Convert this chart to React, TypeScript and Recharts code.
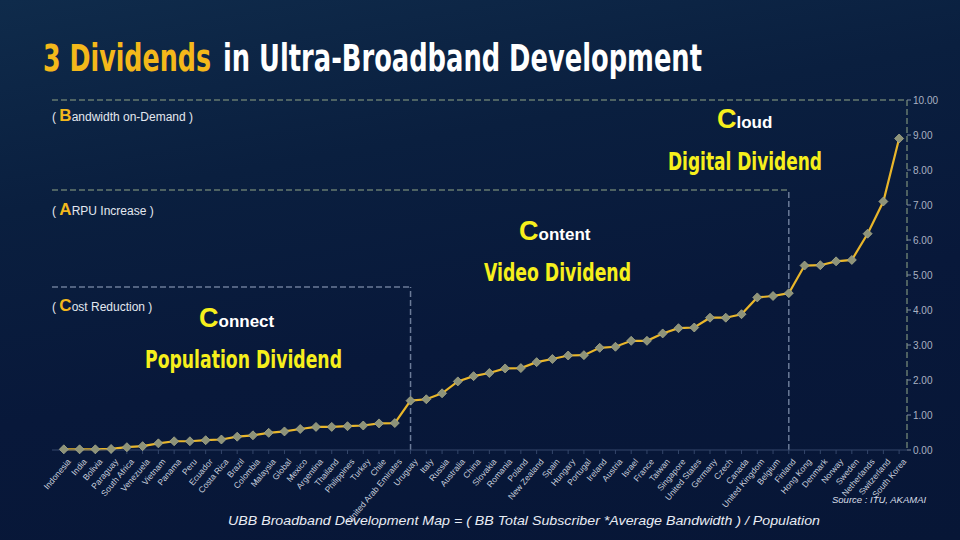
import React from 'react';
import { LineChart, Line, XAxis, YAxis, ReferenceLine } from 'recharts';

const countries = [
  'Indonesia', 'India', 'Bolivia', 'Paraguay', 'South Africa', 'Venezuela', 'Vietnam', 'Panama', 'Peru', 'Ecuador',
  'Costa Rica', 'Brazil', 'Colombia', 'Malaysia', 'Global', 'Mexico', 'Argentina', 'Thailand', 'Philippines', 'Turkey',
  'Chile', 'United Arab Emirates', 'Uruguay', 'Italy', 'Russia', 'Australia', 'China', 'Slovakia', 'Romania', 'Poland',
  'New Zealand', 'Spain', 'Hungary', 'Portugal', 'Ireland', 'Austria', 'Israel', 'France', 'Taiwan', 'Singapore',
  'United States', 'Germany', 'Czech', 'Canada', 'United Kingdom', 'Belgium', 'Finland', 'Hong Kong', 'Denmark', 'Norway',
  'Sweden', 'Netherlands', 'Switzerland', 'South Korea',
];

const ubbValues = [
  0.02, 0.02, 0.02, 0.03, 0.08, 0.11, 0.19, 0.25, 0.25, 0.28,
  0.30, 0.38, 0.42, 0.49, 0.53, 0.60, 0.66, 0.66, 0.68, 0.70,
  0.76, 0.77, 1.41, 1.45, 1.62, 1.96, 2.11, 2.20, 2.33, 2.34,
  2.51, 2.60, 2.70, 2.71, 2.92, 2.95, 3.12, 3.12, 3.33, 3.48,
  3.50, 3.78, 3.78, 3.88, 4.36, 4.40, 4.48, 5.27, 5.28, 5.39,
  5.43, 6.18, 7.10, 8.90,
];

const yTicks = [0, 1, 2, 3, 4, 5, 6, 7, 8, 9, 10];

// dividend thresholds (box top levels) and the boundary countries
const populationLevel = 4.66;
const videoLevel = 7.43;
const digitalLevel = 10;
const populationEnd = 'Uruguay';
const videoEnd = 'Finland';

const data = countries.map((c, i) => ({ idx: i, country: c, value: ubbValues[i] }));
const xTicks = countries.map((_, i) => i);
const X_MIN = -0.75;
const X_MAX = 53.5;

const H_DASH = '#66796f';
const V_DASH = '#6b7b98';

const Diamond = (props: any) => {
  const { cx, cy } = props;
  if (cx == null || cy == null) return null;
  const r = 4.5;
  return (
    <polygon
      points={`${cx},${cy - r} ${cx + r},${cy} ${cx},${cy + r} ${cx - r},${cy}`}
      fill="#8e9379"
      stroke="#a7a98a"
      strokeWidth={0.8}
    />
  );
};

const XTick = (props: any) => {
  const { x, y, payload } = props;
  return (
    <g transform={`translate(${x + 3},${y + 2})`}>
      <text
        x={0}
        y={0}
        dy={6}
        textAnchor="end"
        transform="rotate(-50)"
        fill="#c9d0de"
        fontSize={8.5}
        fontFamily="'Liberation Sans', Arial, sans-serif"
      >
        {countries[payload.value]}
      </text>
    </g>
  );
};

const narrow = "'Liberation Sans Narrow', 'DejaVu Sans Condensed', 'Liberation Sans', sans-serif";
const arial = "'Liberation Sans', Arial, sans-serif";
const YEL = '#f6ef1c';
const GOLD = '#f2b81c';

export default function App() {
  const endIdxPop = countries.indexOf(populationEnd);
  const endIdxVid = countries.indexOf(videoEnd);
  return (
    <div
      style={{
        position: 'absolute',
        left: 0,
        top: 0,
        width: 960,
        height: 540,
        overflow: 'hidden',
        background: 'linear-gradient(170deg, #0f2b4b 0%, #0a1f3f 30%, #08183a 60%, #071636 100%)',
      }}
    >
      <LineChart width={960} height={540} data={data} margin={{ top: 100, right: 8, left: 52, bottom: 30 }}>
        <XAxis
          dataKey="idx"
          type="number"
          domain={[X_MIN, X_MAX]}
          ticks={xTicks}
          interval={0}
          height={60}
          tick={<XTick />}
          axisLine={{ stroke: '#34466a' }}
          tickLine={{ stroke: '#34466a' }}
          tickSize={4}
          allowDataOverflow
        />
        <YAxis
          orientation="right"
          width={45}
          domain={[0, 10]}
          ticks={yTicks}
          tickFormatter={(v: number) => v.toFixed(2)}
          tick={{ fill: '#aab2c2', fontSize: 10, fontFamily: arial }}
          axisLine={{ stroke: H_DASH, strokeDasharray: '6 3', strokeWidth: 1.5 }}
          tickLine={{ stroke: '#7f8aa0' }}
          tickSize={4}
        />
        <ReferenceLine
          segment={[{ x: X_MIN, y: digitalLevel }, { x: X_MAX, y: digitalLevel }]}
          stroke={H_DASH}
          strokeDasharray="6 3"
          strokeWidth={1.5}
        />
        <ReferenceLine
          segment={[{ x: X_MIN, y: videoLevel }, { x: endIdxVid, y: videoLevel }]}
          stroke={H_DASH}
          strokeDasharray="6 3"
          strokeWidth={1.5}
        />
        <ReferenceLine
          segment={[{ x: endIdxVid, y: 0 }, { x: endIdxVid, y: videoLevel }]}
          stroke={V_DASH}
          strokeDasharray="6 3"
          strokeWidth={1.5}
        />
        <ReferenceLine
          segment={[{ x: X_MIN, y: populationLevel }, { x: endIdxPop, y: populationLevel }]}
          stroke={V_DASH}
          strokeDasharray="6 3"
          strokeWidth={1.5}
        />
        <ReferenceLine
          segment={[{ x: endIdxPop, y: 0 }, { x: endIdxPop, y: populationLevel }]}
          stroke={V_DASH}
          strokeDasharray="6 3"
          strokeWidth={1.5}
        />
        <Line
          type="linear"
          dataKey="value"
          stroke="#e9b62a"
          strokeWidth={2.2}
          dot={<Diamond />}
          activeDot={false}
          isAnimationActive={false}
        />
      </LineChart>

      <svg
        width={960}
        height={540}
        style={{ position: 'absolute', left: 0, top: 0, pointerEvents: 'none' }}
      >
        <g transform="translate(0,71) scale(1,1.3)">
          <text x={43} y={0} fontFamily={narrow} fontWeight="bold" fontSize={28} fill="#f4b81a" textLength={168} lengthAdjust="spacingAndGlyphs">
            3 Dividends
          </text>
          <text x={223} y={0} fontFamily={narrow} fontWeight="bold" fontSize={28} fill="#ffffff" textLength={479} lengthAdjust="spacingAndGlyphs">
            in Ultra-Broadband Development
          </text>
        </g>

        <text x={52} y={121} fontFamily={arial} fontSize={12} fill="#e3e8f0">
          ( <tspan fill={GOLD} fontWeight="bold" fontSize={17}>B</tspan>andwidth on-Demand )
        </text>
        <text x={52} y={215} fontFamily={arial} fontSize={12} fill="#e3e8f0">
          ( <tspan fill={GOLD} fontWeight="bold" fontSize={17}>A</tspan>RPU Increase )
        </text>
        <text x={52} y={311} fontFamily={arial} fontSize={12} fill="#e3e8f0">
          ( <tspan fill={GOLD} fontWeight="bold" fontSize={17}>C</tspan>ost Reduction )
        </text>

        <text x={717} y={128} fontFamily={arial} fontWeight="bold" fill="#ffffff" fontSize={17}>
          <tspan fill={YEL} fontSize={27}>C</tspan>loud
        </text>
        <text x={668} y={170} fontFamily={narrow} fontWeight="bold" fontSize={25} fill={YEL} textLength={154} lengthAdjust="spacingAndGlyphs">
          Digital Dividend
        </text>

        <text x={519} y={240} fontFamily={arial} fontWeight="bold" fill="#ffffff" fontSize={17}>
          <tspan fill={YEL} fontSize={27}>C</tspan>ontent
        </text>
        <text x={484} y={281} fontFamily={narrow} fontWeight="bold" fontSize={25} fill={YEL} textLength={147} lengthAdjust="spacingAndGlyphs">
          Video Dividend
        </text>

        <text x={199} y={327} fontFamily={arial} fontWeight="bold" fill="#ffffff" fontSize={17}>
          <tspan fill={YEL} fontSize={27}>C</tspan>onnect
        </text>
        <text x={145} y={368} fontFamily={narrow} fontWeight="bold" fontSize={25} fill={YEL} textLength={197} lengthAdjust="spacingAndGlyphs">
          Population Dividend
        </text>

        <text x={832} y={503} fontFamily={arial} fontStyle="italic" fontSize={9.5} fill="#d8dee8">
          Source : ITU, AKAMAI
        </text>
        <text x={228} y={525} fontFamily={arial} fontStyle="italic" fontSize={13} fill="#e8ecf4" textLength={592} lengthAdjust="spacingAndGlyphs">
          UBB Broadband Development Map =   ( BB Total Subscriber *Average Bandwidth ) / Population
        </text>
      </svg>
    </div>
  );
}
